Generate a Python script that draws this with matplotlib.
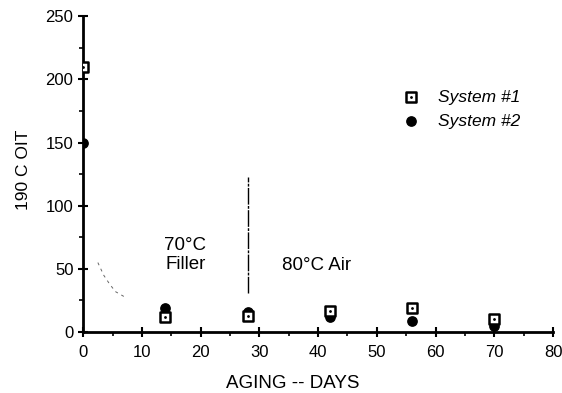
import numpy as np
import matplotlib
matplotlib.use("Agg")
import matplotlib.pyplot as plt
from matplotlib.ticker import MultipleLocator

plt.rcParams['font.family'] = ['Liberation Sans', 'DejaVu Sans']

# data
days = [0, 14, 28, 42, 56, 70]
sys1 = [210, 12, 13, 17, 19, 10]
sys2 = [150, 19, 16, 12, 9, 5]

# faint hand-drawn trend near the origin
curve_x = [2.5, 3.5, 4.5, 5.5, 7.0]
curve_y = [55, 45, 38, 32, 28]

fig = plt.figure(figsize=(5.62, 3.93), dpi=100)
ax = fig.add_axes([0.148, 0.155, 0.836, 0.804])

ax.scatter(days, sys2, marker='o', s=45, color='black', zorder=3)
ax.scatter(days, sys1, marker='s', s=45, facecolor='white', edgecolor='black',
           linewidths=1.8, zorder=4)
ax.scatter(days, sys1, marker='.', s=4, color='black', zorder=5)

ax.plot(curve_x, curve_y, ls=(0, (3, 4)), color='black', lw=0.7, alpha=0.6)
ax.plot([28, 28], [31, 123], ls=(0, (12, 1, 2, 1)), color='black', lw=1.0)

ax.text(17.4, 61, '70°C\nFiller', ha='center', va='center', fontsize=13.5,
        linespacing=1.2)
ax.text(39.7, 53, '80°C Air', ha='center', va='center', fontsize=13.5)

# legend drawn by hand
ax.scatter([55.9], [186], marker='s', s=45, facecolor='white', edgecolor='black',
           linewidths=1.8, zorder=4)
ax.scatter([55.9], [186], marker='.', s=4, color='black', zorder=5)
ax.scatter([55.9], [167], marker='o', s=45, color='black', zorder=3)
ax.text(60.5, 186, 'System #1', va='center', fontsize=12.5, style='italic')
ax.text(60.5, 167, 'System #2', va='center', fontsize=12.5, style='italic')

ax.set_xlim(0, 80)
ax.set_ylim(0, 250)
ax.xaxis.set_major_locator(MultipleLocator(10))
ax.xaxis.set_minor_locator(MultipleLocator(5))
ax.yaxis.set_major_locator(MultipleLocator(50))
ax.yaxis.set_minor_locator(MultipleLocator(25))
ax.tick_params(which='major', direction='inout', length=7, width=1.5, labelsize=12)
ax.tick_params(which='minor', direction='out', length=3, width=1.2)
ax.tick_params(axis='x', pad=6)

for s in ['top', 'right']:
    ax.spines[s].set_visible(False)
for s in ['left', 'bottom']:
    ax.spines[s].set_linewidth(2)

ax.set_xlabel('AGING -- DAYS', fontsize=13.5)
ax.set_ylabel('190 C OIT', fontsize=12.5)
ax.xaxis.set_label_coords(0.445, -0.135)
ax.yaxis.set_label_coords(-0.112, 0.515)

fig.savefig('out.png', dpi=100)
